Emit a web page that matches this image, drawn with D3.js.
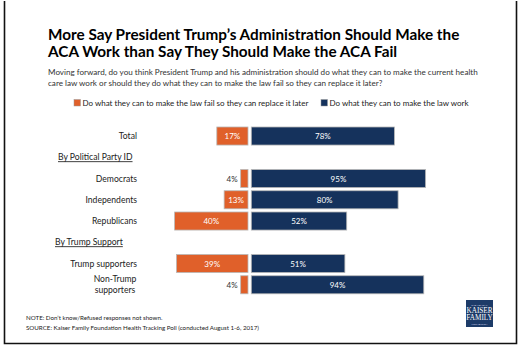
<!DOCTYPE html>
<html>
<head>
<meta charset="utf-8">
<script src="https://cdn.jsdelivr.net/npm/d3@7"></script>
<style>
  body { margin: 0; background: #fff; }
  svg { display: block; font-family: Lato, "Open Sans", sans-serif; }
</style>
</head>
<body>
<svg width="520" height="346"></svg>
<script>
// survey rows, top to bottom (group headers sit in their own slots)
var slotOrder = ["Total", "By Political Party ID", "Democrats", "Independents", "Republicans",
                 "By Trump Support", "Trump supporters", "Non-Trump supporters"];
var groupHeaders = ["By Political Party ID", "By Trump Support"];
var categories = ["Total", "Democrats", "Independents", "Republicans", "Trump supporters", "Non-Trump supporters"];
var failValues = [17, 4, 13, 40, 39, 4];
var workValues = [78, 95, 80, 52, 51, 94];
var seriesNames = ["Do what they can to make the law fail so they can replace it later",
                   "Do what they can to make the law work"];

var orange = "#e0602a",
    navy = "#15325c";

var svg = d3.select("svg");

// frame
svg.append("path")
    .attr("d", "M4.5,1V343.5H516.5V1")
    .attr("fill", "none")
    .attr("stroke", "#111")
    .attr("stroke-width", 1.6);

// title + question
var title = svg.append("text")
    .attr("x", 48)
    .attr("font-weight", "bold")
    .attr("font-size", 15.3)
    .attr("fill", "#000");
title.append("tspan").attr("x", 48).attr("y", 40).text("More Say President Trump\u2019s Administration Should Make the");
title.append("tspan").attr("x", 48).attr("y", 57).text("ACA Work than Say They Should Make the ACA Fail");

var sub = svg.append("text")
    .attr("font-size", 8.1)
    .attr("fill", "#333");
sub.append("tspan").attr("x", 48).attr("y", 75).text("Moving forward, do you think President Trump and his administration should do what they can to make the current health");
sub.append("tspan").attr("x", 48).attr("y", 86).text("care law work or should they do what they can to make the law fail so they can replace it later?");

// legend
var legend = svg.append("g").attr("font-size", 8);
var legendX = [74, 321];
seriesNames.forEach(function(name, i) {
    legend.append("rect")
        .attr("x", legendX[i])
        .attr("y", 99.5)
        .attr("width", 6.5)
        .attr("height", 6.5)
        .attr("fill", i === 0 ? orange : navy)
        .attr("stroke", "#999")
        .attr("stroke-width", 0.5);
    legend.append("text")
        .attr("x", legendX[i] + 8.5)
        .attr("y", 105.5)
        .attr("fill", "#222")
        .text(name);
});

// scales
var y = d3.scaleBand()
    .domain(slotOrder)
    .range([125.4, 295.4])
    .paddingInner(0.15)
    .paddingOuter(0.075);

var xFail = d3.scaleLinear().domain([0, 100]).range([248, 248 - 183.5]);
var xWork = d3.scaleLinear().domain([0, 100]).range([251.3, 251.3 + 183.5]);

var rows = categories.map(function(c, i) {
    return { name: c, fail: failValues[i], work: workValues[i] };
});

var g = svg.append("g");

// fail bars (grow left from the centre)
g.selectAll(".fail")
    .data(rows)
    .enter().append("rect")
    .attr("class", "fail")
    .attr("x", function(d) { return xFail(d.fail); })
    .attr("y", function(d) { return y(d.name); })
    .attr("width", function(d) { return xFail(0) - xFail(d.fail); })
    .attr("height", y.bandwidth())
    .attr("fill", orange)
    .attr("stroke", "#b8b8b8")
    .attr("stroke-width", 0.8);

// work bars
g.selectAll(".work")
    .data(rows)
    .enter().append("rect")
    .attr("class", "work")
    .attr("x", xWork(0))
    .attr("y", function(d) { return y(d.name); })
    .attr("width", function(d) { return xWork(d.work) - xWork(0); })
    .attr("height", y.bandwidth())
    .attr("fill", navy)
    .attr("stroke", "#b8b8b8")
    .attr("stroke-width", 0.8);

// value labels: inside when the bar is wide enough, otherwise just left of it
g.selectAll(".failLabel")
    .data(rows)
    .enter().append("text")
    .attr("class", "failLabel")
    .attr("x", function(d) {
        return d.fail < 8 ? xFail(d.fail) - 3 : (xFail(d.fail) + xFail(0)) / 2;
    })
    .attr("y", function(d) { return y(d.name) + y.bandwidth() / 2 + 3; })
    .attr("text-anchor", function(d) { return d.fail < 8 ? "end" : "middle"; })
    .attr("font-size", 8)
    .attr("fill", function(d) { return d.fail < 8 ? "#333" : "#fff"; })
    .text(function(d) { return d.fail + "%"; });

g.selectAll(".workLabel")
    .data(rows)
    .enter().append("text")
    .attr("class", "workLabel")
    .attr("x", function(d) { return (xWork(0) + xWork(d.work)) / 2; })
    .attr("y", function(d) { return y(d.name) + y.bandwidth() / 2 + 3; })
    .attr("text-anchor", "middle")
    .attr("font-size", 8)
    .attr("fill", "#fff")
    .text(function(d) { return d.work + "%"; });

// category labels
var labelRight = 137;
rows.forEach(function(d) {
    var cy = y(d.name) + y.bandwidth() / 2;
    var t = g.append("text")
        .attr("font-size", 8.6)
        .attr("fill", "#222");
    if (d.name === "Non-Trump supporters") {
        var cx = labelRight - 22;
        t.attr("text-anchor", "middle");
        t.append("tspan").attr("x", cx).attr("y", cy - 2.5).text("Non-Trump");
        t.append("tspan").attr("x", cx).attr("y", cy + 8.5).text("supporters");
    } else {
        t.attr("x", labelRight).attr("y", cy + 3).attr("text-anchor", "end").text(d.name);
    }
});

// group headers, underlined
var headerX = [58, 55];
groupHeaders.forEach(function(h, i) {
    g.append("text")
        .attr("x", headerX[i])
        .attr("y", y(h) + y.bandwidth() / 2 + 3)
        .attr("font-size", 8.6)
        .attr("fill", "#222")
        .attr("text-decoration", "underline")
        .text(h);
});

// notes
var note = svg.append("text").attr("font-size", 6.2).attr("fill", "#222");
note.append("tspan").attr("x", 26).attr("y", 320).text("NOTE: Don\u2019t know/Refused responses not shown.");
note.append("tspan").attr("x", 26).attr("y", 329.5).text("SOURCE: Kaiser Family Foundation Health Tracking Poll (conducted August 1-6, 2017)");

// foundation mark
var logo = svg.append("g").attr("transform", "translate(466,300)");
logo.append("rect").attr("width", 27).attr("height", 27).attr("fill", "#1d3b68");
logo.append("text").attr("x", 13.5).attr("y", 5.5).attr("text-anchor", "middle")
    .attr("font-size", 2.6).attr("fill", "#dde").text("THE HENRY J.");
logo.append("text").attr("x", 13.5).attr("y", 13).attr("text-anchor", "middle")
    .attr("font-family", "Liberation Serif, serif").attr("font-size", 7.2).attr("fill", "#fff").text("KAISER");
logo.append("text").attr("x", 13.5).attr("y", 20).attr("text-anchor", "middle")
    .attr("font-family", "Liberation Serif, serif").attr("font-size", 7.2).attr("fill", "#fff").text("FAMILY");
logo.append("text").attr("x", 13.5).attr("y", 24.5).attr("text-anchor", "middle")
    .attr("font-size", 2.4).attr("fill", "#dde").text("FOUNDATION");
</script>
</body>
</html>
